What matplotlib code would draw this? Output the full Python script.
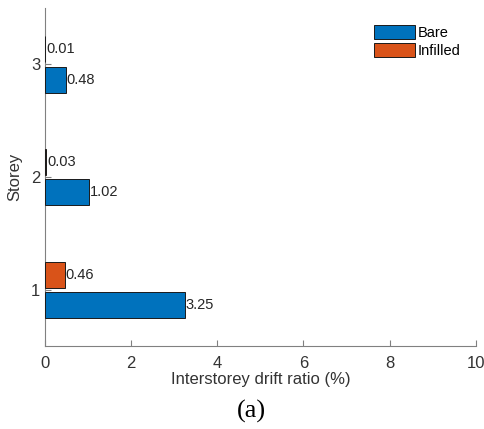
import matplotlib
matplotlib.use('Agg')
from matplotlib import pyplot as plt
import numpy as np

storeys = [1, 2, 3]
bare = [3.25, 1.02, 0.48]
infilled = [0.46, 0.03, 0.01]
labels_bare = ['3.25', '1.02', '0.48']
labels_inf = ['0.46', '0.03', '0.01']

plt.rcParams['font.family'] = ['Liberation Sans', 'DejaVu Sans']

fig = plt.figure(figsize=(4.84, 4.29), dpi=100)
ax = fig.add_axes([0.093, 0.193, 0.89, 0.788])

y = np.array(storeys)
h = 0.23
off = 0.135
ax.barh(y - off, bare, height=h, color='#0072BD', edgecolor='#1a1a1a', linewidth=0.7,
        label='Bare', zorder=3)
ax.barh(y + off, infilled, height=h, color='#D95319', edgecolor='#1a1a1a', linewidth=0.7,
        label='Infilled', zorder=3)

for yi, v, s in zip(y - off, bare, labels_bare):
    ax.text(v + 0.02, yi, s, va='center', ha='left', fontsize=10.5, color='#262626')
for yi, v, s in zip(y + off, infilled, labels_inf):
    ax.text(v + 0.02, yi, s, va='center', ha='left', fontsize=10.5, color='#262626')

ax.set_xlim(0, 10)
ax.set_ylim(0.5, 3.5)
ax.set_xticks([0, 2, 4, 6, 8, 10])
ax.set_yticks(storeys)
ax.spines['top'].set_visible(False)
ax.spines['right'].set_visible(False)
for sp in ['left', 'bottom']:
    ax.spines[sp].set_color('#808080')
    ax.spines[sp].set_linewidth(0.8)
ax.tick_params(direction='in', length=4, color='#808080', labelsize=12, labelcolor='#333333')
ax.tick_params(axis='x', pad=7)
ax.set_xlabel('Interstorey drift ratio (%)', fontsize=12, color='#333333', labelpad=1)
ax.set_ylabel('Storey', fontsize=12, color='#333333', labelpad=6)

ax.legend(loc='upper right', frameon=False, fontsize=10.5, handlelength=2.8,
          handleheight=1.1, handletextpad=0.2, labelspacing=0.25,
          bbox_to_anchor=(0.995, 0.99))

fig.text(0.52, 0.042, '(a)', ha='center', va='center', fontsize=19,
         family=['Liberation Serif', 'DejaVu Serif'])

fig.savefig('out.png', dpi=100)
